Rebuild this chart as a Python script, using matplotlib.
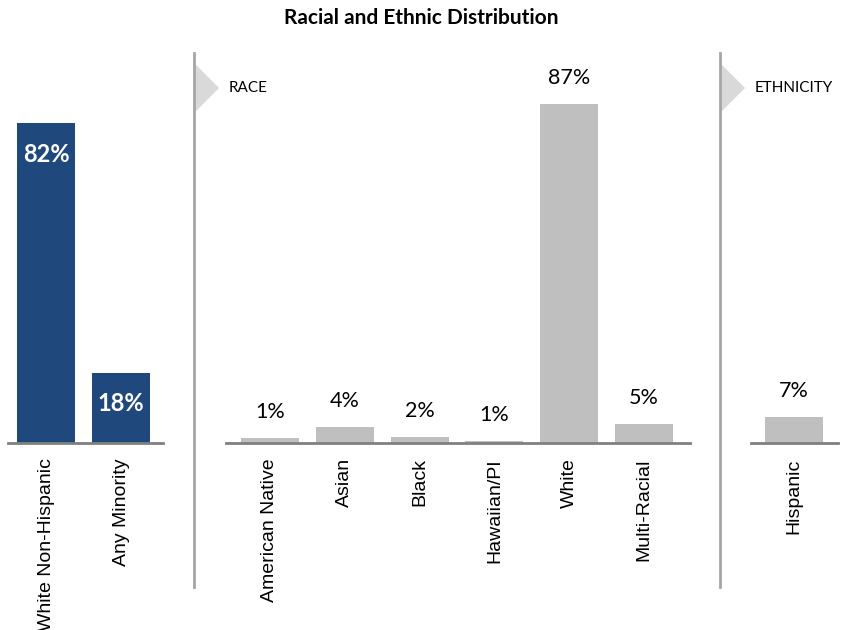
import matplotlib.pyplot as plt
from matplotlib.patches import Polygon
from matplotlib.lines import Line2D

# data
summary_cats = ["White Non-Hispanic", "Any Minority"]
summary_vals = [82, 18]
race_cats = ["American Native", "Asian", "Black", "Hawaiian/PI", "White", "Multi-Racial"]
race_vals = [1.3, 4.0, 1.6, 0.6, 87.0, 4.8]
eth_cats = ["Hispanic"]
eth_vals = [6.6]

W, H = 842, 630
fig = plt.figure(figsize=(W / 100, H / 100), dpi=100)

NAVY = "#1F497D"
GREY_BAR = "#BFBFBF"
AXIS = "#808080"
LABEL_FONT = ["Lato", "DejaVu Sans"]
TICK_FONT = ["Liberation Sans", "DejaVu Sans"]

PX_PER_PCT = 3.9
BASE_Y = 443
TOP_Y = 60


def px_axes(x0, x1):
    # axes placed in pixel coords (y measured from top)
    return fig.add_axes([x0 / W, (H - BASE_Y) / H, (x1 - x0) / W, (BASE_Y - TOP_Y) / H])


def panel(ax, cats, vals, color, lo, hi, inside=False):
    xs = range(len(cats))
    ax.bar(xs, vals, width=0.775, color=color, zorder=2)
    ax.set_xlim(lo, hi)
    ax.set_ylim(0, (BASE_Y - TOP_Y) / PX_PER_PCT)
    for s in ["top", "left", "right"]:
        ax.spines[s].set_visible(False)
    ax.spines["bottom"].set_color(AXIS)
    ax.spines["bottom"].set_linewidth(2)
    ax.set_yticks([])
    ax.set_xticks(list(xs))
    ax.set_xticklabels(cats, rotation=90, fontsize=14, family=TICK_FONT)
    ax.tick_params(axis="x", length=0, pad=11)
    for x, v in zip(xs, vals):
        if inside:
            ax.annotate(f"{v:.0f}%", (x, v), xytext=(0, -31), textcoords="offset pixels",
                        ha="center", va="center", color="white", fontsize=17,
                        fontweight="bold", family=LABEL_FONT)
        else:
            ax.annotate(f"{v:.0f}%", (x, v), xytext=(0, 16), textcoords="offset pixels",
                        ha="center", va="bottom", color="black", fontsize=15.5,
                        family=LABEL_FONT)


ax1 = px_axes(8, 163)
panel(ax1, summary_cats, summary_vals, NAVY, -0.507, 1.56, inside=True)

ax2 = px_axes(226, 690)
panel(ax2, race_cats, race_vals, GREY_BAR, -0.588, 5.615)

ax3 = px_axes(751, 838)
panel(ax3, eth_cats, eth_vals, GREY_BAR, -0.575, 0.588)

fig.text(0.5, 1 - 18 / H, "Racial and Ethnic Distribution", ha="center", va="center",
         fontsize=15, fontweight="bold", family=LABEL_FONT)

# section dividers with arrow flags
for xd, label in [(194, "RACE"), (720, "ETHNICITY")]:
    tri = Polygon([[xd / W, 1 - 63 / H], [(xd + 25) / W, 1 - 88 / H], [xd / W, 1 - 113 / H]],
                  closed=True, transform=fig.transFigure, facecolor="#D9D9D9",
                  edgecolor="none", zorder=1)
    fig.patches.append(tri)
    fig.lines.append(Line2D([xd / W, xd / W], [1 - 53 / H, 1 - 587 / H],
                            transform=fig.transFigure, color="#A6A6A6", lw=2))
    fig.text((xd + 35) / W, 1 - 88 / H, label, ha="left", va="center",
             fontsize=11, family=LABEL_FONT)

fig.savefig("out.png", dpi=100)
